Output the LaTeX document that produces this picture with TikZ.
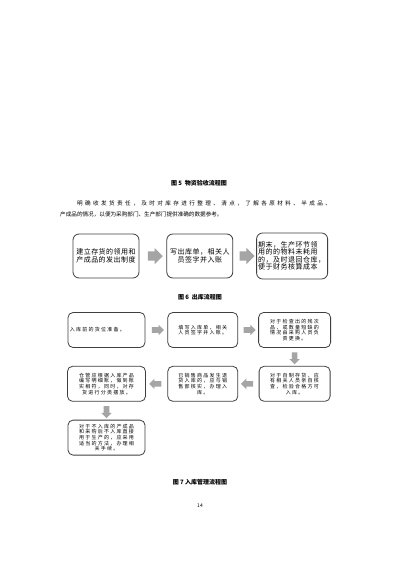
\documentclass[tikz,border=0pt]{standalone}
\usepackage{fontspec}
\newfontfamily\cjk{Noto Sans CJK SC}
\newfontfamily\cjkmid[LetterSpace=7]{Noto Sans CJK SC}
\newfontfamily\cjksp[LetterSpace=25]{Noto Sans CJK SC}
\newfontfamily\cjkpar[LetterSpace=43]{Noto Sans CJK SC}
\usetikzlibrary{arrows.meta, positioning, shapes.arrows, calc}
\definecolor{arrowgray}{HTML}{A5A5A5}
\definecolor{boxline}{HTML}{3F3F3F}

\begin{document}
\begin{tikzpicture}[
  x=1pt, y=-1pt,
  node distance=18pt and 22pt,
  bigbox/.style={draw=boxline, line width=0.8pt, rounded corners=6pt, minimum width=66pt, minimum height=44pt, inner sep=1pt, align=center, font=\cjkmid\fontsize{7}{8.2}\selectfont},
  stepbox/.style={draw=boxline, line width=0.8pt, rounded corners=5pt, minimum height=35pt, inner sep=1pt, align=center, font=\cjksp\fontsize{5}{5.6}\selectfont},
  garrow/.style={single arrow, fill=arrowgray, draw=none, inner xsep=0pt, inner ysep=4.5pt, minimum height=15pt, single arrow head extend=3.5pt},
  sarrow/.style={single arrow, fill=arrowgray, draw=none, inner xsep=0pt, inner ysep=2.6pt, minimum height=12pt, single arrow head extend=2.4pt},
  caption/.style={font=\cjk\bfseries\fontsize{6}{7}\selectfont}
]
  \useasboundingbox[fill=white] (0,0) rectangle (400,566);

  % page text
  \node[caption] (cap5) at (199,183) {图 5\ \ 物资验收流程图};
  \node[anchor=west, inner sep=0pt, font=\cjkpar\fontsize{5.6}{6}\selectfont] (par1) at (77,203) {明确收发货责任，及时对库存进行整理、清点，了解各原材料、半成品、};
  \node[anchor=west, inner sep=0pt, font=\cjk\fontsize{5.6}{6}\selectfont] (par2) at (60,214) {产成品的情况，以便为采购部门、生产部门提供准确的数据参考。};

  % figure 6
  \node[bigbox] (out1) at (106,256) {建立存货的领用和\\产成品的发出制度};
  \node[bigbox, right=27pt of out1] (out2) {写出库单，相关人\\员签字并入账};
  \node[bigbox, right=23pt of out2, minimum width=71pt, minimum height=46pt, text width=68pt, align=left, font=\cjkmid\fontsize{7}{7.3}\selectfont] (out3) {期末，生产环节领\\用的的物料未耗用\\的，及时退回仓库，\\便于财务核算成本};
  \node[garrow] (ga1) at ($(out1.east)!0.5!(out2.west)$) {};
  \node[garrow] (ga2) at ($(out2.east)!0.5!(out3.west)$) {};
  \node[caption] (cap6) at (200,297) {图 6\ \ 出库流程图};

  % figure 7
  \node[stepbox, minimum width=77pt, text width=73pt, align=left] (in1) at (106.5,330) {入库前的货位准备。};
  \node[stepbox, right=of in1, minimum width=70pt] (in2) {填写入库单，相关\\人员签字并入账。};
  \node[stepbox, right=20pt of in2, minimum width=72pt] (in3) {对于检查出的残次\\品，或数量短缺的\\情况由采购人员负\\责更换。};
  \node[stepbox, below=of in3, minimum width=71pt] (in6) {对于自制存货，应\\有相关人员亲自核\\查，检验合格方可\\入库。};
  \node[stepbox, below=of in2, minimum width=70pt] (in5) {已销售商品发生退\\货入库的，应与销\\售部核实，办理入\\库。};
  \node[stepbox, below=of in1, minimum width=78pt] (in4) {仓管应根据入库产品\\编写明细账，做到账\\实相符，同时，对存\\货进行分类摆放。};
  \node[stepbox, below=of in4, minimum width=77pt] (in7) {对于不入库的产成品\\和采购后不入库直接\\用于生产的，应采用\\适当的方法，办理相\\关手续。};

  \node[sarrow] (sa1) at ($(in1.east)!0.5!(in2.west)$) {};
  \node[sarrow] (sa2) at ($(in2.east)!0.5!(in3.west)$) {};
  \node[sarrow, rotate=-90] (sa3) at ($(in3.south)!0.5!(in6.north)$) {};
  \node[sarrow, rotate=180] (sa4) at ($(in6.west)!0.5!(in5.east)$) {};
  \node[sarrow, rotate=180] (sa5) at ($(in5.west)!0.5!(in4.east)$) {};
  \node[sarrow, rotate=-90] (sa6) at ($(in4.south)!0.5!(in7.north)$) {};
  \node[caption] (cap7) at (200,482) {图 7 入库管理流程图};

  \node[font=\cjk\fontsize{5}{6}\selectfont] (pageno) at (200,506) {14};
\end{tikzpicture}
\end{document}
